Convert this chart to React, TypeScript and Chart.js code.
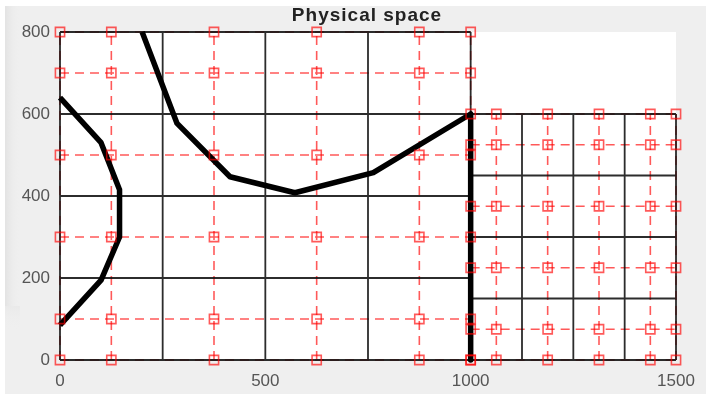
import React, { useEffect, useRef } from "react";
import { Chart, registerables } from "chart.js";

Chart.register(...registerables);

// Coarse grid (black lines), left block and right block
const leftGridX = [0, 250, 500, 750, 1000];
const leftGridY = [0, 200, 400, 600, 800];
const rightGridX = [1000, 1125, 1250, 1375, 1500];
const rightGridY = [0, 150, 300, 450, 600];

// Node lines (red dashed with square markers)
const leftNodeX = [0, 125, 375, 625, 875, 1000];
const leftNodeY = [0, 100, 300, 500, 700, 800];
const rightNodeX = [1000, 1062.5, 1187.5, 1312.5, 1437.5, 1500];
const rightNodeY = [0, 75, 225, 375, 525, 600];

// Thick black curves
const curveAX = [0, 100, 145, 145, 100, 0];
const curveAY = [640, 530, 415, 300, 195, 85];
const curveBX = [200, 285, 414, 572, 763, 1000, 1000];
const curveBY = [800, 577, 447, 408, 457, 600, 0];

// Axis ticks
const xTicks = [0, 500, 1000, 1500];
const yTicks = [0, 200, 400, 600, 800];
const titleText = "Physical space";

type P = { x: number; y: number | null };

function gridSegments(xs: number[], ys: number[]): P[] {
  const out: P[] = [];
  const x0 = xs[0], x1 = xs[xs.length - 1];
  const y0 = ys[0], y1 = ys[ys.length - 1];
  xs.forEach((x) => {
    out.push({ x, y: y0 }, { x, y: y1 }, { x, y: null });
  });
  ys.forEach((y) => {
    out.push({ x: x0, y }, { x: x1, y }, { x: x1, y: null });
  });
  return out;
}

function nodes(xs: number[], ys: number[]): P[] {
  const out: P[] = [];
  xs.forEach((x) => ys.forEach((y) => out.push({ x, y })));
  return out;
}

function zipXY(xs: number[], ys: number[]): P[] {
  return xs.map((x, i) => ({ x, y: ys[i] }));
}

const RED = "rgba(255,0,0,0.65)";
const FONT = "'Liberation Sans', Arial, Helvetica, sans-serif";

const bgPlugin = {
  id: "bg",
  beforeDraw(chart: any) {
    const { ctx, width, height, chartArea } = chart;
    ctx.save();
    ctx.fillStyle = "#ffffff";
    ctx.fillRect(0, 0, width, height);
    ctx.fillStyle = "#efefef";
    ctx.fillRect(5, 6, width - 5, height - 6);
    const g = ctx.createLinearGradient(5, 0, 20, 0);
    g.addColorStop(0, "rgba(215,215,215,0.5)");
    g.addColorStop(1, "rgba(239,239,239,0)");
    ctx.fillStyle = g;
    ctx.fillRect(5, 6, 15, 300);
    const g2 = ctx.createLinearGradient(0, 300, 0, 330);
    g2.addColorStop(0, "rgba(215,215,215,0.35)");
    g2.addColorStop(1, "rgba(239,239,239,0)");
    ctx.fillStyle = g2;
    ctx.fillRect(5, 306, 15, 24);
    ctx.fillStyle = "#ffffff";
    ctx.fillRect(chartArea.left, chartArea.top, chartArea.right - chartArea.left, chartArea.bottom - chartArea.top);
    ctx.restore();
  },
  afterDraw(chart: any) {
    const { ctx, chartArea } = chart;
    ctx.save();
    ctx.font = `bold 19px ${FONT}`;
    (ctx as any).letterSpacing = "1px";
    ctx.fillStyle = "#222222";
    ctx.textAlign = "center";
    ctx.textBaseline = "alphabetic";
    ctx.fillText(titleText, (chartArea.left + chartArea.right) / 2 - 1, 21);
    ctx.restore();
  },
};

export default function App() {
  const ref = useRef<HTMLCanvasElement | null>(null);

  useEffect(() => {
    document.body.style.margin = "0";
    const canvas = ref.current;
    if (!canvas) return;

    const redLines = (data: P[]) => ({
      data,
      showLine: true,
      spanGaps: false,
      borderColor: RED,
      borderWidth: 1.6,
      borderDash: [9, 6],
      pointRadius: 0,
      clip: false as any,
    });
    const blackLines = (data: P[]) => ({
      data,
      showLine: true,
      spanGaps: false,
      borderColor: "rgba(15,15,15,0.88)",
      borderWidth: 1.8,
      pointRadius: 0,
      clip: false as any,
    });
    const thick = (data: P[]) => ({
      data,
      showLine: true,
      borderColor: "#000000",
      borderWidth: 5.5,
      borderJoinStyle: "round" as const,
      pointRadius: 0,
      clip: false as any,
    });
    const markers = (data: P[]) => ({
      data,
      showLine: false,
      pointStyle: "rect" as const,
      pointRadius: 6.5,
      pointBorderColor: RED,
      pointBackgroundColor: "rgba(0,0,0,0)",
      pointBorderWidth: 1.6,
      clip: false as any,
    });

    const chart = new Chart(canvas, {
      type: "scatter",
      data: {
        datasets: [
          markers(nodes(leftNodeX, leftNodeY)),
          markers(nodes(rightNodeX, rightNodeY)),
          thick(zipXY(curveAX, curveAY)),
          thick(zipXY(curveBX, curveBY)),
          blackLines(gridSegments(leftGridX, leftGridY)),
          blackLines(gridSegments(rightGridX, rightGridY)),
          redLines(gridSegments(leftNodeX, leftNodeY)),
          redLines(gridSegments(rightNodeX, rightNodeY)),
        ] as any,
      },
      options: {
        responsive: false,
        animation: false,
        events: [],
        layout: { padding: { top: 32, right: 30, bottom: 0, left: 0 } },
        plugins: {
          legend: { display: false },
          tooltip: { enabled: false },
          title: { display: false },
        },
        scales: {
          x: {
            type: "linear",
            min: 0,
            max: 1500,
            grid: { display: false, drawTicks: false },
            border: { display: false },
            afterFit: (s: any) => {
              s.height = 34;
            },
            afterBuildTicks: (s: any) => {
              s.ticks = xTicks.map((v) => ({ value: v }));
            },
            ticks: {
              padding: 11,
              color: "#555555",
              font: { family: FONT, size: 17 },
              maxRotation: 0,
              callback: (v: any) => String(v),
            },
          },
          y: {
            type: "linear",
            min: 0,
            max: 800,
            grid: { display: false, drawTicks: false },
            border: { display: false },
            afterFit: (s: any) => {
              s.width = 60;
            },
            afterBuildTicks: (s: any) => {
              s.ticks = yTicks.map((v) => ({ value: v }));
            },
            ticks: {
              padding: 10,
              color: "#555555",
              font: { family: FONT, size: 17 },
              callback: (v: any) => String(v),
            },
          },
        },
      },
      plugins: [bgPlugin],
    });

    return () => chart.destroy();
  }, []);

  return (
    <div style={{ width: 706, height: 394 }}>
      <canvas ref={ref} width={706} height={394} style={{ display: "block" }} />
    </div>
  );
}
